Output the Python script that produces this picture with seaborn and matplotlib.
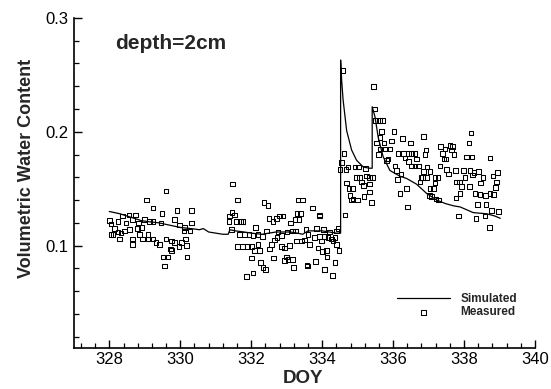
import matplotlib
matplotlib.use("Agg")
import matplotlib.pyplot as plt
from matplotlib.ticker import MultipleLocator, FormatStrFormatter
import seaborn as sns
import pandas as pd

# ---------------- data ----------------
sim_doy = [328.00, 328.30, 328.60, 328.90, 329.13, 329.40, 329.70, 330.00, 330.30,
           330.54, 330.65, 330.80, 331.00, 331.20, 331.35, 331.40, 331.55, 331.80,
           332.00, 332.30, 332.50, 332.70, 332.90, 333.10, 333.30, 333.45, 333.60,
           333.80, 334.00, 334.20, 334.40, 334.52,
           334.52, 334.55, 334.59, 334.69, 334.83, 334.97, 335.16, 335.34, 335.41,
           335.41, 335.49, 335.58, 335.72, 335.91, 336.19, 336.38, 336.66, 336.94,
           337.23, 337.47, 337.70, 337.89, 338.26, 338.64, 338.87, 339.02]
sim_vwc = [0.130, 0.128, 0.125, 0.122, 0.121, 0.120, 0.118, 0.116, 0.115,
           0.114, 0.115, 0.112, 0.111, 0.110, 0.110, 0.114, 0.113, 0.112,
           0.111, 0.110, 0.111, 0.112, 0.112, 0.112, 0.111, 0.110, 0.113,
           0.113, 0.113, 0.112, 0.111, 0.111,
           0.263, 0.245, 0.228, 0.201, 0.184, 0.175, 0.169, 0.168, 0.168,
           0.222, 0.213, 0.195, 0.178, 0.166, 0.161, 0.159, 0.154, 0.146,
           0.140, 0.137, 0.135, 0.134, 0.129, 0.128, 0.126, 0.124]

meas_doy = [
    # 328 - 330.4
    329.60, 329.04, 329.23, 329.49, 329.91, 330.31, 328.38, 328.55, 328.74, 328.00,
    328.24, 328.47, 328.66, 328.83, 328.99, 329.13, 329.23, 329.46, 329.84, 329.98,
    330.12, 330.31, 330.27, 330.10, 328.05, 328.14, 328.10, 328.24, 328.43, 328.57,
    328.29, 328.66, 328.80, 328.90, 328.94, 329.09, 329.09, 329.23, 329.32, 329.42,
    328.66, 329.60, 329.75, 329.84, 330.03, 330.15, 330.17, 329.96, 329.72, 329.75,
    329.51, 329.65, 329.56, 330.19, 328.05, 328.33, 328.85,
    # 331.4 - 334.1
    331.48, 331.61, 332.36, 332.47, 333.32, 333.44, 333.72, 331.46, 331.53, 331.39,
    331.58, 331.37, 331.69, 331.77, 332.50, 332.61, 332.80, 332.90, 332.71, 333.29,
    333.39, 333.23, 333.35, 333.10, 333.93, 332.12, 331.44, 331.67, 331.81, 331.94,
    332.05, 332.19, 332.31, 332.43, 332.76, 332.85, 333.01, 333.16, 333.25, 333.54,
    333.84, 334.03, 333.60, 333.79, 333.93, 334.07, 331.62, 331.75, 331.89, 332.00,
    332.10, 332.19, 332.24, 332.57, 332.52, 332.66, 332.73, 332.85, 332.94, 333.08,
    333.27, 333.41, 333.51, 333.65, 333.88, 333.98, 334.12, 332.00, 332.63, 332.99,
    333.04, 332.94, 333.16, 332.27, 332.33, 332.40, 332.05, 331.86, 333.20, 333.57,
    333.82, 334.07, 333.58,
    # 334.0 - 334.5
    333.93, 334.03, 334.20, 334.40, 334.45, 334.07, 334.17, 334.26, 334.36, 334.31,
    334.40, 334.48, 334.01, 334.14, 334.36, 334.07, 334.29,
    # 334.5 - 339
    334.59, 334.61, 334.54, 334.50, 334.67, 334.73, 334.92, 335.02, 335.23, 334.64,
    334.69, 334.76, 334.85, 334.78, 334.83, 334.87, 334.99, 334.97, 335.06, 335.11,
    335.16, 335.25, 335.33, 335.42, 335.34, 335.33, 335.39, 335.18, 335.44, 335.47,
    335.51, 335.61, 335.70, 335.67, 335.63, 335.53, 335.74, 335.63, 335.77, 335.91,
    335.96, 336.03, 335.58, 335.86, 335.82, 336.05, 336.10, 336.12, 336.22, 336.19,
    336.38, 336.40, 336.26, 336.14, 336.29, 336.43, 336.52, 336.62, 336.49, 336.33,
    336.43, 336.66, 336.62, 336.71, 336.52, 336.85, 336.93, 336.90, 336.95, 337.04,
    336.85, 336.79, 336.76, 336.83, 336.96, 337.18, 337.27, 337.18, 337.04, 337.13,
    337.02, 337.21, 337.28, 337.09, 337.34, 337.46, 337.60, 337.68, 337.65, 337.72,
    337.40, 337.43, 337.49, 337.32, 337.51, 337.56, 337.75, 337.79, 337.87, 337.93,
    338.03, 337.98, 338.17, 338.07, 338.22, 338.14, 338.20, 338.24, 338.28, 338.40,
    338.53, 338.15, 337.89, 337.77, 338.31, 338.47, 338.45, 338.61, 338.73, 338.83,
    338.88, 338.92, 338.94, 338.81, 338.73, 338.38, 338.62, 338.78, 338.97, 337.84,
    338.34, 338.59, 338.71,
]
meas_vwc = [
    0.148, 0.140, 0.133, 0.128, 0.131, 0.131, 0.126, 0.127, 0.127, 0.122,
    0.121, 0.120, 0.123, 0.120, 0.123, 0.121, 0.121, 0.120, 0.123, 0.118,
    0.116, 0.120, 0.113, 0.113, 0.119, 0.115, 0.110, 0.112, 0.113, 0.114,
    0.106, 0.106, 0.115, 0.116, 0.106, 0.110, 0.106, 0.106, 0.103, 0.101,
    0.101, 0.106, 0.104, 0.103, 0.103, 0.106, 0.100, 0.099, 0.097, 0.096,
    0.090, 0.090, 0.082, 0.090, 0.110, 0.111, 0.110,
    0.154, 0.140, 0.138, 0.135, 0.140, 0.140, 0.133, 0.129, 0.127, 0.126,
    0.121, 0.121, 0.121, 0.121, 0.124, 0.121, 0.126, 0.126, 0.124, 0.128,
    0.128, 0.123, 0.123, 0.120, 0.126, 0.116, 0.114, 0.110, 0.110, 0.110,
    0.109, 0.110, 0.108, 0.113, 0.112, 0.109, 0.112, 0.113, 0.113, 0.114,
    0.115, 0.114, 0.110, 0.107, 0.108, 0.108, 0.099, 0.099, 0.099, 0.099,
    0.096, 0.101, 0.096, 0.101, 0.097, 0.105, 0.107, 0.099, 0.098, 0.100,
    0.104, 0.104, 0.105, 0.101, 0.098, 0.104, 0.096, 0.089, 0.089, 0.090,
    0.088, 0.087, 0.088, 0.085, 0.081, 0.079, 0.076, 0.073, 0.081, 0.083,
    0.086, 0.079, 0.082,
    0.127, 0.114, 0.112, 0.113, 0.115, 0.108, 0.107, 0.106, 0.107, 0.104,
    0.101, 0.096, 0.095, 0.090, 0.085, 0.079, 0.074,
    0.254, 0.181, 0.173, 0.167, 0.167, 0.169, 0.169, 0.169, 0.168, 0.127,
    0.155, 0.150, 0.150, 0.144, 0.140, 0.141, 0.140, 0.160, 0.160, 0.156,
    0.153, 0.161, 0.160, 0.160, 0.154, 0.147, 0.138, 0.143, 0.240, 0.220,
    0.210, 0.210, 0.210, 0.200, 0.195, 0.190, 0.190, 0.185, 0.185, 0.185,
    0.192, 0.200, 0.180, 0.176, 0.175, 0.170, 0.166, 0.158, 0.163, 0.146,
    0.150, 0.134, 0.194, 0.181, 0.181, 0.181, 0.181, 0.181, 0.190, 0.177,
    0.174, 0.176, 0.170, 0.170, 0.170, 0.196, 0.184, 0.180, 0.169, 0.165,
    0.165, 0.160, 0.156, 0.160, 0.160, 0.160, 0.160, 0.155, 0.150, 0.150,
    0.144, 0.141, 0.140, 0.143, 0.187, 0.185, 0.188, 0.187, 0.184, 0.180,
    0.181, 0.176, 0.176, 0.170, 0.167, 0.163, 0.166, 0.156, 0.156, 0.152,
    0.160, 0.166, 0.166, 0.178, 0.178, 0.190, 0.199, 0.162, 0.164, 0.165,
    0.160, 0.152, 0.146, 0.142, 0.146, 0.155, 0.145, 0.144, 0.146, 0.145,
    0.151, 0.156, 0.164, 0.161, 0.177, 0.136, 0.136, 0.131, 0.130, 0.126,
    0.124, 0.126, 0.116,
]

x_major = [328, 330, 332, 334, 336, 338, 340]
y_major = [0.1, 0.2, 0.3]
title_text = "depth=2cm"
x_label = "DOY"
y_label = "Volumetric Water Content"
series_names = ["Simulated", "Measured"]

# ---------------- plot ----------------
sns.set_style("ticks")
plt.rcParams["font.family"] = ["Liberation Sans", "DejaVu Sans"]

sim_df = pd.DataFrame({"doy": sim_doy, "vwc": sim_vwc})
meas_df = pd.DataFrame({"doy": meas_doy, "vwc": meas_vwc})

fig = plt.figure(figsize=(5.51, 3.89), dpi=100)
ax = fig.add_axes([0.134, 0.105, 0.837, 0.849])

sns.lineplot(data=sim_df, x="doy", y="vwc", ax=ax, estimator=None, sort=False,
             color="black", linewidth=0.9, label=series_names[0])
sns.scatterplot(data=meas_df, x="doy", y="vwc", ax=ax, marker="s", s=11,
                facecolor="none", edgecolor="black", linewidth=0.75,
                label=series_names[1])

ax.set_xlim(327, 340)
ax.set_ylim(0.01, 0.3)
ax.set_xticks(x_major)
ax.set_yticks(y_major)
ax.xaxis.set_minor_locator(MultipleLocator(0.4))
ax.yaxis.set_minor_locator(MultipleLocator(0.02))
ax.yaxis.set_major_formatter(FormatStrFormatter("%.1f"))

for s in ["top", "right"]:
    ax.spines[s].set_visible(False)
for s in ["left", "bottom"]:
    ax.spines[s].set_linewidth(1.2)
    ax.spines[s].set_color("black")

ax.tick_params(axis="both", which="major", direction="in", length=6, width=1.0,
               labelsize=12, colors="black")
ax.tick_params(axis="both", which="minor", direction="in", length=3.5, width=0.9,
               colors="black")
ax.tick_params(axis="x", which="major", pad=2.5)
ax.tick_params(axis="y", which="major", pad=4)

ax.set_xlabel(x_label, fontsize=13.5, fontweight="bold")
ax.set_ylabel(y_label, fontsize=13, fontweight="bold")
ax.xaxis.set_label_coords(0.497, -0.065)
ax.yaxis.set_label_coords(-0.085, 0.545)

ax.text(0.089, 0.906, title_text, transform=ax.transAxes, fontsize=15,
        fontweight="bold", ha="left", va="baseline")

ax.legend(loc="lower left", bbox_to_anchor=(0.7007, 0.09), frameon=False,
          borderpad=0, borderaxespad=0, handlelength=4.5, handletextpad=0.85,
          labelspacing=0.15, scatterpoints=1, prop={"size": 8.5, "weight": "bold"})

fig.savefig("out.png", dpi=100)
